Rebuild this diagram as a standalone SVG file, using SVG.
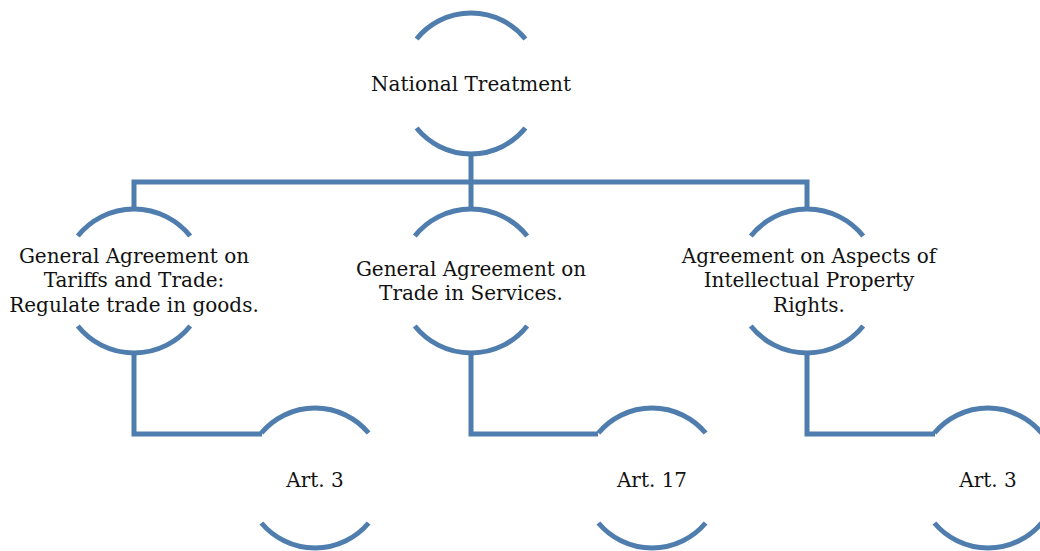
<svg xmlns="http://www.w3.org/2000/svg" width="1040" height="551" viewBox="0 0 1040 551">
  <style>
    .arc { fill: none; stroke: #4F7DAE; stroke-width: 5; }
    .link { fill: none; stroke: #4F7DAE; stroke-width: 5; stroke-linejoin: miter; }
    .label { font-family: "DejaVu Serif", "Liberation Serif", serif; font-size: 20px; fill: #111; text-anchor: middle; }
  </style>
  <rect width="1040" height="551" fill="#ffffff"/>

  <g id="connectors">
    <polyline class="link" points="471,153 471,182"/>
    <polyline class="link" points="134,209 134,182 807,182 807,209"/>
    <polyline class="link" points="471,182 471,209"/>
    <polyline class="link" points="134,353 134,434 262,434"/>
    <polyline class="link" points="471,353 471,434 598,434"/>
    <polyline class="link" points="807,353 807,434 935,434"/>
  </g>

  <g id="national-treatment">
    <path class="arc" d="M 416.6 39 A 70 70 0 0 1 525.4 39"/>
    <path class="arc" d="M 416.6 128 A 70 70 0 0 0 525.4 128"/>
    <text class="label" x="471" y="91">National Treatment</text>
  </g>

  <g id="gatt">
    <path class="arc" d="M 77.8 236 A 72 72 0 0 1 190.2 236"/>
    <path class="arc" d="M 77.8 326 A 72 72 0 0 0 190.2 326"/>
    <text class="label" x="134" y="263">General Agreement on</text>
    <text class="label" x="134" y="287">Tariffs and Trade:</text>
    <text class="label" x="134" y="312">Regulate trade in goods.</text>
  </g>

  <g id="gats">
    <path class="arc" d="M 414.8 236 A 72 72 0 0 1 527.2 236"/>
    <path class="arc" d="M 414.8 326 A 72 72 0 0 0 527.2 326"/>
    <text class="label" x="471" y="276">General Agreement on</text>
    <text class="label" x="471" y="300">Trade in Services.</text>
  </g>

  <g id="trips">
    <path class="arc" d="M 750.8 236 A 72 72 0 0 1 863.2 236"/>
    <path class="arc" d="M 750.8 326 A 72 72 0 0 0 863.2 326"/>
    <text class="label" x="809" y="263">Agreement on Aspects of</text>
    <text class="label" x="809" y="287">Intellectual Property</text>
    <text class="label" x="809" y="312">Rights.</text>
  </g>

  <g id="gatt-art3">
    <path class="arc" d="M 261.4 433 A 70 70 0 0 1 368.6 433"/>
    <path class="arc" d="M 261.4 523 A 70 70 0 0 0 368.6 523"/>
    <text class="label" x="315" y="487">Art. 3</text>
  </g>

  <g id="gats-art17">
    <path class="arc" d="M 598.4 433 A 70 70 0 0 1 705.6 433"/>
    <path class="arc" d="M 598.4 523 A 70 70 0 0 0 705.6 523"/>
    <text class="label" x="652" y="487">Art. 17</text>
  </g>

  <g id="trips-art3">
    <path class="arc" d="M 934.4 433 A 70 70 0 0 1 1041.6 433"/>
    <path class="arc" d="M 934.4 523 A 70 70 0 0 0 1041.6 523"/>
    <text class="label" x="988" y="487">Art. 3</text>
  </g>
</svg>
